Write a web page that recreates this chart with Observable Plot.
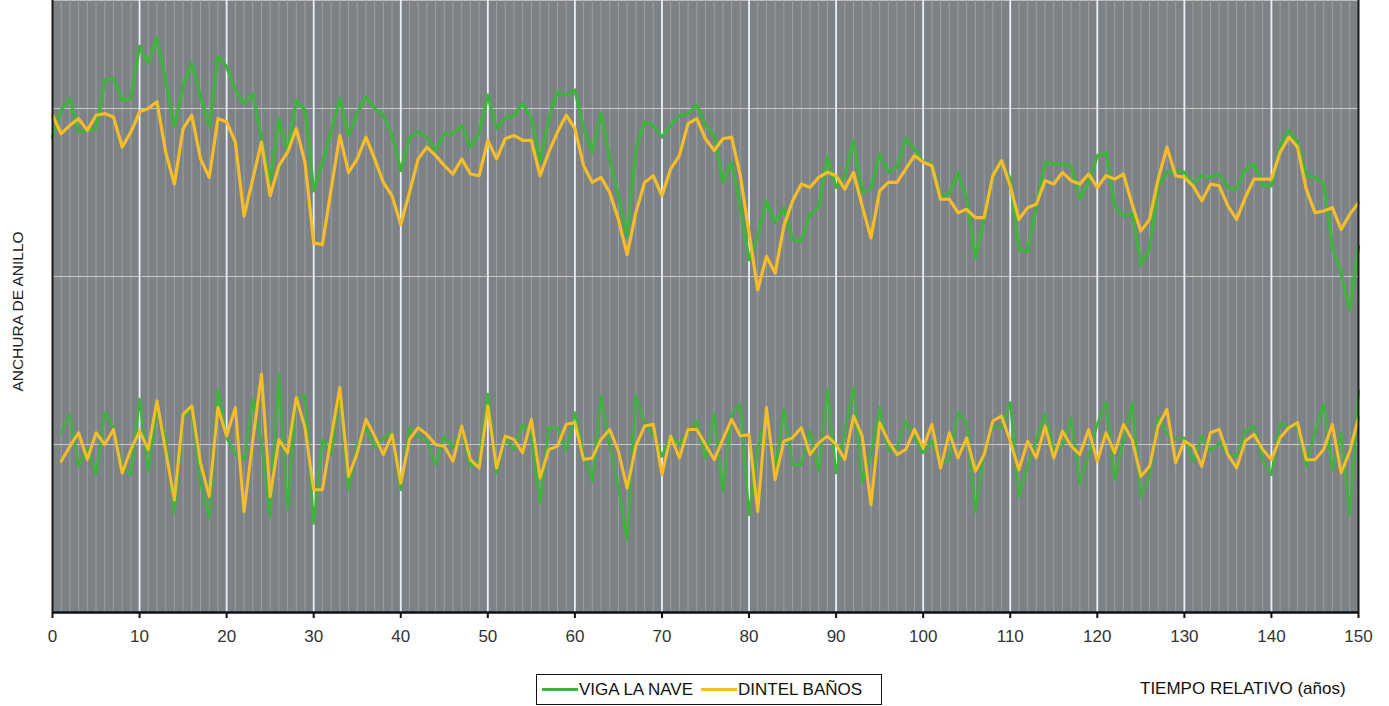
<!DOCTYPE html>
<html>
<head>
<meta charset="utf-8">
<script src="https://cdn.jsdelivr.net/npm/d3@7"></script>
<script src="https://cdn.jsdelivr.net/npm/@observablehq/plot@0.6"></script>
<style>
  body { margin: 0; background: #fff; font-family: "Liberation Sans", Arial, sans-serif; }
  #foot { position: relative; width: 1389px; height: 41px; }
  #legend { position: absolute; left: 536px; top: 9px; width: 344px; height: 29px; border: 1px solid #111;
            display: flex; align-items: center; font-size: 17px; color: #111; white-space: nowrap; }
  .sw { display: inline-block; width: 36px; height: 3px; margin-left: 5px; margin-right: 1px; }
  #xlabel { position: absolute; left: 1140px; top: 14px; font-size: 17px; color: #111; white-space: nowrap; }
</style>
</head>
<body>
<div id="chart"></div>
<div id="foot">
  <div id="legend"><span class="sw" style="background:#3eb43c"></span><span>VIGA LA NAVE</span><span class="sw" style="background:#f5be28;margin-left:8px"></span><span>DINTEL BAÑOS</span></div>
  <div id="xlabel">TIEMPO RELATIVO (años)</div>
</div>
<script>
// years (x categories)
const years = d3.range(0, 151);
const idxYears = d3.range(1, 151);
const xTicks = [0, 10, 20, 30, 40, 50, 60, 70, 80, 90, 100, 110, 120, 130, 140, 150];
const hGrid = [100, 200, 300];

// Raw ring-width curves (upper pair), relative units
const vigaRaw = [283,299,306,286,287,288,317,318,305,306,
 337,327,342,317,289,313,327,307,289,331,
 325,311,303,309,282,256,294,274,305,299,
 251,268,286,306,284,297,307,300,296,284,
 263,283,286,283,275,285,285,290,277,285,
 308,288,294,296,303,294,268,294,310,308,
 311,288,274,297,270,248,224,276,292,290,
 283,290,296,297,302,290,284,256,268,242,
 210,224,245,232,241,222,221,237,241,271,
 253,260,281,250,252,273,262,265,282,276,
 268,267,248,249,262,246,211,234,260,268,
 258,216,215,242,268,267,267,266,246,256,
 272,274,242,236,238,207,216,254,262,263,
 262,255,260,259,261,253,252,264,267,254,
 254,278,287,280,260,259,255,218,202,180,
 218];

const dintelRaw = [296,285,290,294,287,296,297,295,277,286,
 298,300,304,274,255,288,296,270,259,294,
 292,280,236,258,280,248,266,274,288,268,
 220,219,252,284,262,270,283,270,256,248,
 231,250,270,277,272,266,261,270,261,260,
 281,270,282,284,281,281,260,274,286,296,
 288,266,256,259,250,234,213,238,256,260,
 248,264,272,291,294,282,275,282,283,260,
 226,192,212,202,230,245,255,253,259,262,
 260,252,262,242,223,251,256,256,264,272,
 268,266,246,246,238,240,235,235,260,269,
 254,234,241,243,257,255,262,257,255,261,
 253,260,258,261,243,227,234,258,277,260,
 259,254,245,255,254,242,234,247,258,258,
 258,274,283,277,252,238,239,241,228,237,
 244];

// Indexed curves (lower pair), years 1..150
const vigaIdx = [107,118,87,98,82,119,110,87,82,127,
 84,121,104,59,116,122,77,56,133,104,
 94,91,127,101,57,142,61,128,129,53,
 103,94,132,73,100,110,98,104,107,73,
 110,105,102,88,105,98,109,87,90,130,
 83,104,97,112,105,65,110,110,96,119,
 94,78,129,99,74,43,129,113,106,93,
 105,100,107,114,92,118,72,118,124,58,
 98,117,84,121,88,88,108,84,133,83,
 108,134,77,94,122,96,98,114,104,95,
 102,89,91,119,113,60,95,111,110,125,
 69,87,103,118,96,99,116,77,94,112,
 125,79,103,125,69,81,117,106,103,104,
 90,105,96,101,94,93,108,111,91,82,
 113,110,111,87,107,124,85,107,58,132];

const dintelIdx = [90,99,107,91,107,100,109,83,97,108,
 97,126,96,67,118,123,89,69,122,105,
 122,60,102,142,69,103,95,128,110,73,
 73,104,134,81,95,115,105,94,106,77,
 103,110,106,100,99,90,111,91,86,123,
 86,105,103,95,115,80,97,99,112,113,
 91,92,103,109,96,74,99,111,112,82,
 105,92,109,109,100,91,103,115,105,106,
 60,122,79,102,104,110,94,101,105,100,
 91,117,105,64,113,102,94,97,109,98,
 112,86,107,92,104,84,94,114,117,102,
 85,102,92,111,92,108,99,94,109,90,
 107,95,112,103,81,87,111,121,89,102,
 99,87,107,109,94,86,102,106,97,91,
 104,110,113,91,91,97,112,83,96,116];

const GREEN = "#3eb43c", YELLOW = "#f5be28";
const toRows = (xs, vs) => xs.map((x, i) => ({year: x, value: vs[i]}));

const chart = Plot.plot({
  width: 1389,
  height: 665,
  marginLeft: 52,
  marginRight: 31,
  marginTop: 0,
  marginBottom: 53,
  style: {background: "transparent", fontFamily: "Liberation Sans, Arial, sans-serif"},
  x: {domain: [0, 150], axis: null},
  y: {domain: [0, 364.3], axis: null},
  marks: [
    Plot.frame({fill: "#7d8286", stroke: "none"}),
    Plot.ruleX(years, {stroke: "#9ba0a4", strokeWidth: 1}),
    Plot.ruleY(hGrid, {stroke: "#c6c9cc", strokeWidth: 1.2}),
    Plot.ruleX(xTicks.slice(1, -1), {stroke: "#eaf0f8", strokeWidth: 1.8}),
    Plot.line(toRows(years, vigaRaw), {x: "year", y: "value", stroke: GREEN, strokeWidth: 3.2}),
    Plot.line(toRows(years, dintelRaw), {x: "year", y: "value", stroke: YELLOW, strokeWidth: 3.2}),
    Plot.line(toRows(idxYears, vigaIdx), {x: "year", y: "value", stroke: GREEN, strokeWidth: 2.6}),
    Plot.line(toRows(idxYears, dintelIdx), {x: "year", y: "value", stroke: YELLOW, strokeWidth: 3}),
    Plot.ruleX([0, 150], {stroke: "#1a1a1a", strokeWidth: 2}),
    Plot.ruleY([0], {stroke: "#111", strokeWidth: 2.5}),
    Plot.axisX(xTicks, {tickSize: 6, tickPadding: 11, fontSize: 17, stroke: "#111", strokeWidth: 2, fill: "#333", label: null}),
    Plot.text(["ANCHURA DE ANILLO"], {frameAnchor: "left", textAnchor: "middle", rotate: -90, dx: -34, dy: 5, fontSize: 15.5, fill: "#222"})
  ]
});
document.getElementById("chart").appendChild(chart);
</script>
</body>
</html>
